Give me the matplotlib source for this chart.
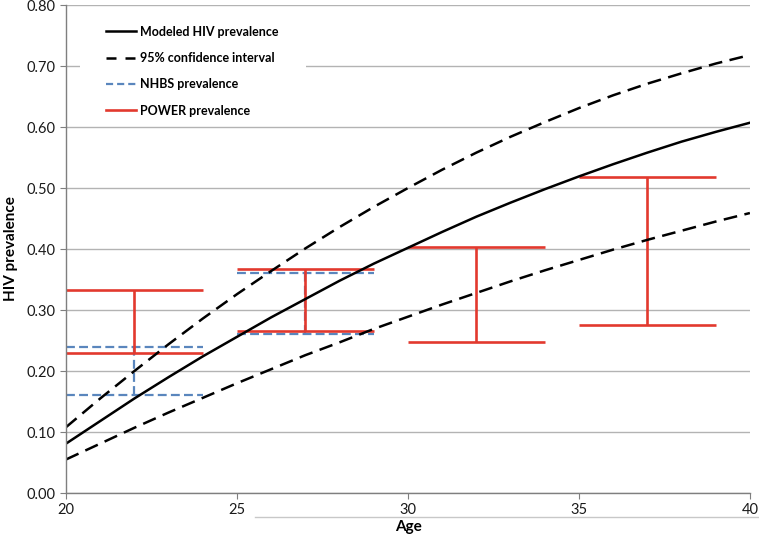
import numpy as np
import matplotlib.pyplot as plt
from matplotlib.lines import Line2D
from matplotlib.patches import Rectangle

# idade (anos) e prevalência modelada, com IC 95%
idade = [20, 21, 22, 23, 24, 25, 26, 27, 28, 29, 30,
         31, 32, 33, 34, 35, 36, 37, 38, 39, 40]
prev_modelo = [0.081, 0.118, 0.155, 0.190, 0.224, 0.256, 0.288, 0.318, 0.348, 0.376, 0.402,
               0.428, 0.453, 0.476, 0.498, 0.519, 0.539, 0.558, 0.576, 0.592, 0.607]
ic_sup = [0.108, 0.155, 0.200, 0.244, 0.286, 0.326, 0.364, 0.401, 0.436, 0.469, 0.500,
          0.530, 0.558, 0.584, 0.608, 0.631, 0.652, 0.671, 0.688, 0.704, 0.718]
ic_inf = [0.055, 0.081, 0.107, 0.132, 0.156, 0.180, 0.203, 0.226, 0.247, 0.269, 0.289,
          0.309, 0.328, 0.347, 0.365, 0.382, 0.399, 0.415, 0.430, 0.445, 0.459]

# estudos observados
nhbs_idade = [22, 27]
nhbs_inf = [0.160, 0.260]
nhbs_sup = [0.240, 0.360]

power_idade = [22, 27, 32, 37]
power_inf = [0.230, 0.265, 0.247, 0.276]
power_sup = [0.332, 0.367, 0.404, 0.518]

plt.rcParams['font.family'] = ['Lato', 'DejaVu Sans']

vermelho = '#e2392e'
azul = '#5a86bd'
meia = 2  # meia largura das barras (anos)
traco_azul = (0, (4, 1.9))

fig = plt.figure(figsize=(7.59, 5.39), dpi=100)
ax = fig.add_axes([0.087, 0.0853, 0.901, 0.9054])

a = np.array(nhbs_idade)
ax.hlines(nhbs_sup, a - meia, a + meia, color=azul, lw=1.6, linestyles=traco_azul)
ax.hlines(nhbs_inf, a - meia, a + meia, color=azul, lw=1.6, linestyles=traco_azul)
ax.vlines(a, nhbs_inf, nhbs_sup, color=azul, lw=1.6, linestyles=traco_azul)

p = np.array(power_idade)
ax.hlines(power_sup, p - meia, p + meia, color=vermelho, lw=1.9)
ax.hlines(power_inf, p - meia, p + meia, color=vermelho, lw=1.9)
ax.vlines(p, power_inf, power_sup, color=vermelho, lw=1.9)

ax.plot(idade, prev_modelo, color='black', lw=1.8)
ax.plot(idade, ic_sup, color='black', lw=1.8, dashes=(5.5, 3))
ax.plot(idade, ic_inf, color='black', lw=1.8, dashes=(5.5, 3))

ax.set_xlim(20, 40)
ax.set_ylim(0, 0.80)
ax.set_xticks([20, 25, 30, 35, 40])
ax.set_yticks(np.arange(0, 0.81, 0.1))
ax.set_yticklabels([f'{v:.2f}' for v in np.arange(0, 0.81, 0.1)])
ax.grid(axis='y', color='#b3b3b3', lw=1.0)
ax.set_axisbelow(True)
for s in ['top', 'right']:
    ax.spines[s].set_visible(False)
for s in ['left', 'bottom']:
    ax.spines[s].set_color('#7f7f7f')
    ax.spines[s].set_linewidth(1.0)
ax.tick_params(colors='#7f7f7f', labelcolor='#1a1a1a', labelsize=10.5, length=4)

ax.set_xlabel('Age', fontsize=11, fontweight='bold', labelpad=2)
ax.set_ylabel('HIV prevalence', fontsize=11, fontweight='bold', labelpad=6)

# caixa branca da legenda (esconde a grade)
ax.add_patch(Rectangle((0.0205, 0.760), 0.330, 0.225, transform=ax.transAxes,
                       facecolor='white', edgecolor='none', zorder=1.5))

handles = [
    Line2D([], [], color='black', lw=1.8),
    Line2D([], [], color='black', lw=1.8, dashes=(4, 3.6)),
    Line2D([], [], color=azul, lw=1.6, dashes=(3.2, 1.8)),
    Line2D([], [], color=vermelho, lw=1.9),
]
nomes = ['Modeled HIV prevalence', '95% confidence interval',
         'NHBS prevalence', 'POWER prevalence']
leg = ax.legend(handles, nomes, loc='upper left', bbox_to_anchor=(0.0585, 0.958),
                frameon=False, borderpad=0, borderaxespad=0,
                prop={'weight': 'bold', 'size': 9}, handlelength=2.4,
                handletextpad=0.35, labelspacing=1.15)

# linha cinza solta sob o rótulo do eixo x
fig.add_artist(Line2D([255 / 759, 1.0], [1 - 517 / 539, 1 - 517 / 539],
                      color='#c8c8c8', lw=1.0))

plt.savefig('out.png', dpi=100)
